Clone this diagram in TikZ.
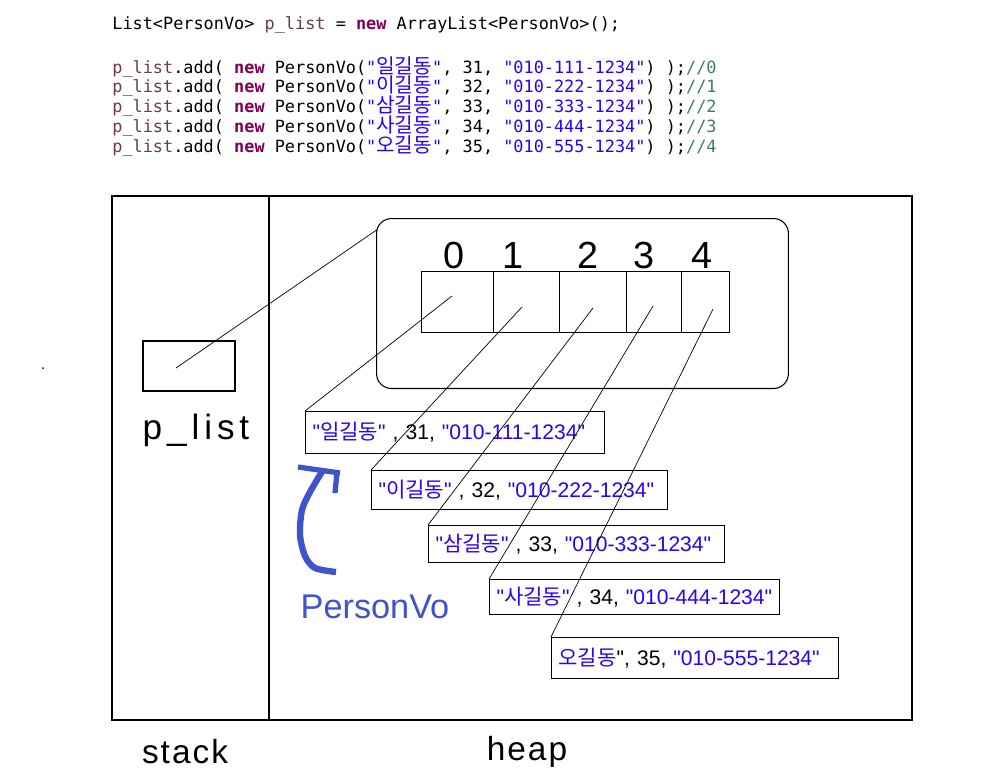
\documentclass[tikz,border=0pt]{standalone}
\usepackage{xcolor}
\usepackage{fontspec}
\usepackage{tikz}
\setmainfont{Liberation Sans}
\setmonofont{DejaVu Sans Mono}
\newfontfamily\krfont{Noto Sans CJK KR}
\newfontfamily\krmono{Noto Sans CJK KR}[Scale=1.2]
\newfontfamily\bigfont{Liberation Sans}[LetterSpace=6]
\newfontfamily\widefont{Liberation Sans}[LetterSpace=14]

\definecolor{varbrown}{RGB}{106,62,62}
\definecolor{kwpurple}{RGB}{127,0,85}
\definecolor{strblue}{RGB}{42,0,255}
\definecolor{cmtgreen}{RGB}{63,127,95}
\definecolor{penblue}{RGB}{65,82,205}

\newcommand{\q}{\textquotedbl}
\newcommand{\pvar}{\textcolor{varbrown}{p\_list}}
\newcommand{\kwnew}{\textcolor{kwpurple}{\bfseries new}}
\newcommand{\addline}[4]{\pvar.add( \kwnew{} PersonVo(\textcolor{strblue}{"{\krmono #1}"}, #2, \textcolor{strblue}{"#3"}) );\textcolor{cmtgreen}{//#4}}

\tikzset{
    codeline/.style={anchor=west, inner sep=0, font=\ttfamily\fontsize{9.6}{11}\selectfont},
    biglabel/.style={inner sep=0, font=\bigfont\fontsize{19}{22}\selectfont},
    idx/.style={inner sep=0, font=\fontsize{21.5}{24}\selectfont},
    cell/.style={draw, line width=0.6pt, anchor=north west, minimum height=1.22cm, inner sep=0},
    pbox/.style={draw, line width=0.6pt, anchor=north west, inner xsep=0.14cm, inner ysep=0, align=left, font=\fontsize{12}{14}\selectfont},
}

\begin{document}
\begin{tikzpicture}[x=0.02cm, y=-0.02cm]
    \useasboundingbox (0,0) rectangle (997,779);

    \node [codeline] (l0) at (112,25) {List<PersonVo> \pvar{} = \kwnew{} ArrayList<PersonVo>();};
    \node [codeline] (l1) at (112,67) {\addline{일길동}{31}{010-111-1234}{0}};
    \node [codeline] (l2) at (112,86) {\addline{이길동}{32}{010-222-1234}{1}};
    \node [codeline] (l3) at (112,106) {\addline{삼길동}{33}{010-333-1234}{2}};
    \node [codeline] (l4) at (112,126) {\addline{사길동}{34}{010-444-1234}{3}};
    \node [codeline] (l5) at (112,146) {\addline{오길동}{35}{010-555-1234}{4}};

    \draw [line width=0.6pt] (112,196) rectangle (912,720);
    \draw [line width=0.6pt] (269,196) -- (269,720);
    \node [biglabel] (stk) at (185,752) {stack};
    \node [biglabel] (hp) at (527,752) {heap};
    \fill (43,368) circle (1);

    \node [draw, line width=0.6pt, minimum width=1.84cm, minimum height=1cm] (plist) at (189,366) {};
    \node [inner sep=0, font=\widefont\fontsize{20}{22}\selectfont] (plistlbl) at (196,430) {p\_list};
    \coordinate [] (pref) at (176,368);

    \node [draw, line width=0.6pt, rounded corners=0.3cm, anchor=north west, minimum width=8.24cm, minimum height=3.4cm] (alist) at (376,218) {};
    \coordinate [] (alref) at (378,229);
    \draw (pref) -- (alref);

    \node [cell, minimum width=1.44cm] (c0) at (421,271) {};
    \node [cell, minimum width=1.32cm] (c1) at (493,271) {};
    \node [cell, minimum width=1.34cm] (c2) at (559,271) {};
    \node [cell, minimum width=1.10cm] (c3) at (626,271) {};
    \node [cell, minimum width=0.96cm] (c4) at (681,271) {};
    \node [idx] (i0) at (454,255) {0};
    \node [idx] (i1) at (513,255) {1};
    \node [idx] (i2) at (588,255) {2};
    \node [idx] (i3) at (644,255) {3};
    \node [idx] (i4) at (702,255) {4};

    \node [pbox, text width=5.70cm, minimum height=0.84cm] (p1) at (305,411) {\mbox{\textcolor{strblue}{\q{\krfont 일길동}\q} , 31, \textcolor{strblue}{\q010-111-1234\q}}};
    \node [pbox, text width=5.64cm, minimum height=0.78cm] (p2) at (371,470) {\mbox{\textcolor{strblue}{\q{\krfont 이길동}\q} , 32, \textcolor{strblue}{\q010-222-1234\q}}};
    \node [pbox, text width=5.64cm, minimum height=0.74cm] (p3) at (428,525) {\mbox{\textcolor{strblue}{\q{\krfont 삼길동}\q} , 33, \textcolor{strblue}{\q010-333-1234\q}}};
    \node [pbox, text width=5.52cm, minimum height=0.70cm] (p4) at (489,579) {\mbox{\textcolor{strblue}{\q{\krfont 사길동}\q} , 34, \textcolor{strblue}{\q010-444-1234\q}}};
    \node [pbox, text width=5.46cm, minimum height=0.82cm] (p5) at (551,637) {\mbox{\textcolor{strblue}{\krfont 오길동}\q , 35, \textcolor{strblue}{\q010-555-1234\q}}};

    \coordinate [] (r0) at (452,296);
    \coordinate [] (r1) at (522,307);
    \coordinate [] (r2) at (593,308);
    \coordinate [] (r3) at (653,306);
    \coordinate [] (r4) at (713,309);
    \draw (r0) -- (p1.north west);
    \draw (r1) -- (p2.north west);
    \draw (r2) -- (p3.north west);
    \draw (r3) -- (p4.north west);
    \draw (r4) -- (p5.north west);

    \draw [penblue, line width=3.6pt, line join=round] plot [smooth] coordinates {(336,572) (315,568) (305,556) (300,535) (302,510) (310,492) (323,470)};
    \draw [penblue, line width=3pt] (298,467) -- (340,473);
    \draw [penblue, line width=3pt] (337,472) -- (335,493);
    \node [inner sep=0, text=penblue, font=\fontsize{19.5}{22}\selectfont] (pvo) at (375,607) {PersonVo};
\end{tikzpicture}
\end{document}
